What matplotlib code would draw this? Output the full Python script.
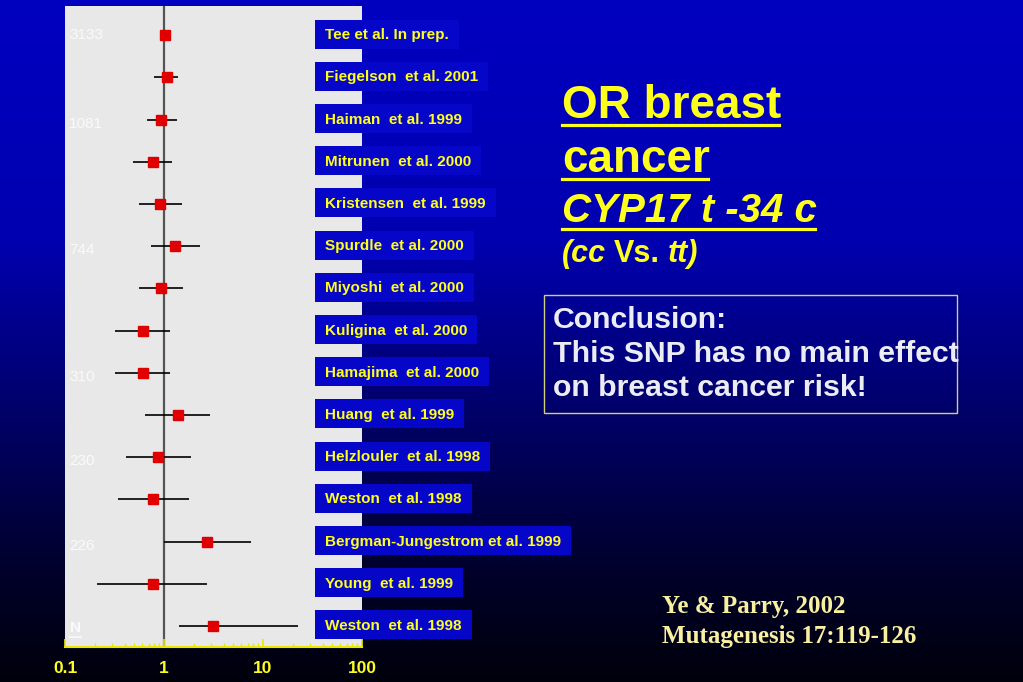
import matplotlib
matplotlib.use("Agg")
import matplotlib.pyplot as plt
import matplotlib.transforms as mtransforms
from matplotlib.patches import Rectangle
from matplotlib.lines import Line2D
from matplotlib.colors import LinearSegmentedColormap
from matplotlib.ticker import NullFormatter
import numpy as np

# forest plot data (odds ratio with 95% CI)
studies = [
    "Tee et al. In prep.", "Fiegelson  et al. 2001", "Haiman  et al. 1999",
    "Mitrunen  et al. 2000", "Kristensen  et al. 1999", "Spurdle  et al. 2000",
    "Miyoshi  et al. 2000", "Kuligina  et al. 2000", "Hamajima  et al. 2000",
    "Huang  et al. 1999", "Helzlouler  et al. 1998", "Weston  et al. 1998",
    "Bergman-Jungestrom et al. 1999", "Young  et al. 1999", "Weston  et al. 1998",
]
odds_ratio = [1.02, 1.07, 0.94, 0.77, 0.91, 1.29, 0.93, 0.61, 0.61, 1.37, 0.86, 0.78, 2.71, 0.77, 3.16]
ci_low = [0.92, 0.80, 0.67, 0.49, 0.56, 0.74, 0.56, 0.32, 0.32, 0.65, 0.41, 0.34, 1.00, 0.21, 1.42]
ci_high = [1.10, 1.38, 1.34, 1.21, 1.53, 2.30, 1.57, 1.14, 1.14, 2.90, 1.88, 1.78, 7.6, 2.73, 22.6]
sample_n = ["3133", "1081", "744", "310", "230", "226"]
sample_row = [0, 2.1, 5.1, 8.1, 10.1, 12.1]
xticks = [0.1, 1, 10, 100]
xtick_labels = ["0.1", "1", "10", "100"]

W, H = 1023, 682
SANS = ["Liberation Sans", "DejaVu Sans"]
SERIF = ["Liberation Serif", "DejaVu Serif"]
YELLOW = "#ffff1e"
plt.rcParams["font.family"] = SANS

fig = plt.figure(figsize=(W / 100, H / 100), dpi=100)


def fx(px):
    return px / W


def fy(py):
    return 1 - py / H


# blue-to-black slide background
bg = fig.add_axes([0, 0, 1, 1], zorder=-5)
cmap = LinearSegmentedColormap.from_list(
    "slide", [(0.0, "#0000c0"), (0.35, "#0000b0"), (0.6, "#00006a"),
              (0.85, "#000028"), (1.0, "#00000c")])
grad = np.linspace(0, 1, 256).reshape(-1, 1)
bg.imshow(grad, aspect="auto", cmap=cmap, extent=[0, 1, 0, 1])
bg.axis("off")

# forest plot panel
ax = fig.add_axes([fx(65), fy(647), fx(362) - fx(65), fy(6) - fy(647)])
ax.set_facecolor("#e8e8e8")
ax.set_xscale("log")
ax.set_xlim(0.1, 100)
rows = np.arange(len(studies))
ax.set_ylim(14.5, -0.69)
ax.axvline(1, color="#555555", lw=1.6, zorder=1)
ax.hlines(rows, ci_low, ci_high, color="black", lw=1.2, zorder=2)
ax.plot(odds_ratio, rows, "s", color="#e00000", ms=7, zorder=3)

for s in ["left", "top", "right"]:
    ax.spines[s].set_visible(False)
ax.spines["bottom"].set_color("#e8e800")
ax.spines["bottom"].set_linewidth(1.5)
ax.set_yticks([])
ax.set_xticks(xticks)
ax.set_xticklabels(xtick_labels)
ax.xaxis.set_minor_formatter(NullFormatter())
ax.tick_params(axis="x", which="both", direction="in", colors="#e8e800", pad=10)
ax.tick_params(axis="x", which="major", length=6, width=1.2, labelsize=12.5, labelcolor=YELLOW)
ax.tick_params(axis="x", which="minor", length=3, width=1.0)
for lbl in ax.get_xticklabels():
    lbl.set_fontweight("bold")

for n, r in zip(sample_n, sample_row):
    ax.text(0.11, r, n, color="#fafafa", fontsize=11, va="center")
n_txt = ax.text(0.113, 14.05, "N", color="#fafafa", fontsize=11, fontweight="bold", va="center")

fig.canvas.draw()
renderer = fig.canvas.get_renderer()
inv = fig.transFigure.inverted()

# underline the N
bb = n_txt.get_window_extent(renderer)
(x0, y0), (x1, _) = inv.transform([(bb.x0, bb.y0 - 2), (bb.x1, bb.y0)])
fig.add_artist(Line2D([x0, x1], [y0, y0], color="#fafafa", lw=1.2, zorder=3))

# study labels in blue boxes
trans = mtransforms.blended_transform_factory(fig.transFigure, ax.transData)
for i, name in enumerate(studies):
    t = fig.text(fx(325), i, name, transform=trans, color=YELLOW, fontsize=11,
                 fontweight="bold", va="center", zorder=4)
    tb = t.get_window_extent(renderer)
    yc = ax.transData.transform((1, i))[1] + 1
    (bx0, by0), (bx1, by1) = inv.transform([(315, yc - 14.5), (tb.x1 + 10, yc + 14.5)])
    fig.add_artist(Rectangle((bx0, by0), bx1 - bx0, by1 - by0, facecolor="#0606c8",
                             edgecolor="none", zorder=2))


def underlined(x, y, s, size, style="normal"):
    t = fig.text(fx(x), fy(y), s, color=YELLOW, fontsize=size, fontweight="bold",
                 fontstyle=style, va="baseline")
    b = t.get_window_extent(renderer)
    ux1 = inv.transform((b.x1 - 2, b.y0))[0]
    uy = fy(y + 7)
    fig.add_artist(Line2D([fx(x), ux1], [uy, uy], color=YELLOW, lw=2.3))
    return t


underlined(562, 118, "OR breast", 33)
underlined(562, 172, "cancer", 33)
underlined(562, 222, "CYP17 t -34 c", 29, "italic")

# (cc Vs. tt) with mixed styles
xpos = 562
for piece, st in [("(cc", "italic"), ("Vs.", "normal"), ("tt)", "italic")]:
    t = fig.text(fx(xpos), fy(262), piece, color=YELLOW, fontsize=22, fontweight="bold",
                 fontstyle=st, va="baseline")
    xpos = t.get_window_extent(renderer).x1 + 8

# conclusion box
fig.add_artist(Rectangle((fx(544), fy(413)), fx(957) - fx(544), fy(295) - fy(413),
                         facecolor="none", edgecolor="#d0d080", lw=1.0))
for k, line in enumerate(["Conclusion:", "This SNP has no main effect",
                          "on breast cancer risk!"]):
    fig.text(fx(553), fy(328 + 34 * k), line, color="#ececf4", fontsize=21.8,
             fontweight="bold", va="baseline")

# citation
fig.text(fx(662), fy(613), "Ye & Parry, 2002", color="#f8f0a0", fontsize=18,
         fontweight="bold", family=SERIF, va="baseline")
fig.text(fx(662), fy(643), "Mutagenesis 17:119-126", color="#f8f0a0", fontsize=18,
         fontweight="bold", family=SERIF, va="baseline")

fig.savefig("out.png", dpi=100)
